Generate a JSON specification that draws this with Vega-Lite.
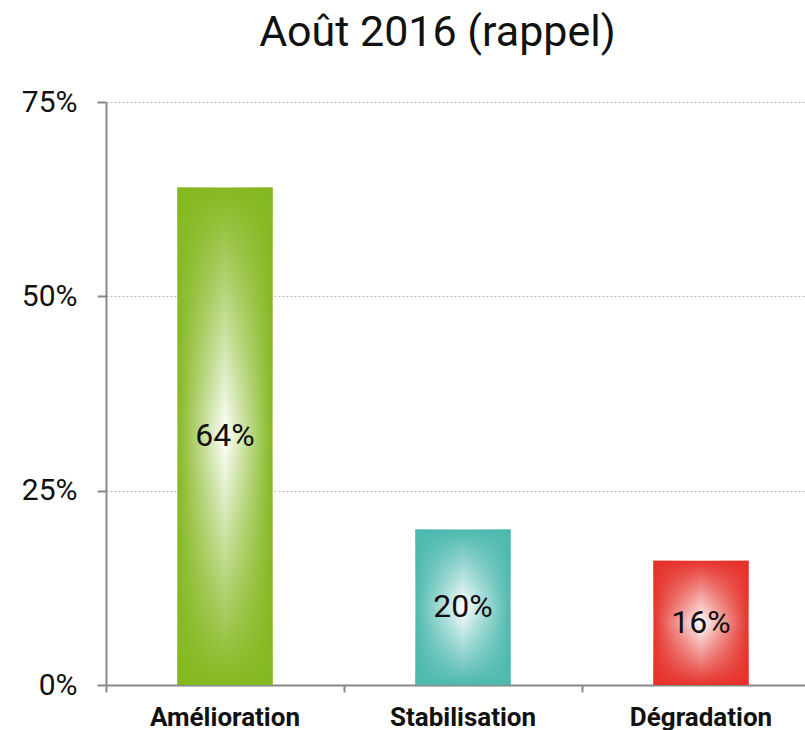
{
  "$schema": "https://vega.github.io/schema/vega-lite/v6.json",
  "width": 699,
  "height": 583,
  "autosize": "none",
  "padding": {"left": 106, "top": 102, "right": 0, "bottom": 45},
  "background": "white",
  "title": {"text": "Août 2016 (rappel)", "fontSize": 43, "font": "Roboto", "fontWeight": "normal", "color": "#111111", "anchor": "middle", "dx": -18, "offset": 32},
  "config": {"view": {"stroke": null}},
  "data": {"values": [
    {"cat": "Amélioration", "value": 0.64},
    {"cat": "Stabilisation", "value": 0.20},
    {"cat": "Dégradation", "value": 0.16}
  ]},
  "encoding": {
    "x": {"field": "cat", "type": "nominal", "sort": null,
      "scale": {"paddingInner": 0, "paddingOuter": 0, "range": [0, 714]},
      "axis": {"title": null, "labelAngle": 0, "bandPosition": 0, "domainColor": "#888888", "domainWidth": 2, "tickColor": "#888888", "tickWidth": 2, "tickSize": 7, "labelFont": "Roboto", "labelFontSize": 26, "labelFontWeight": "bold", "labelColor": "#111111", "labelPadding": 12, "grid": false}},
    "y": {"field": "value", "type": "quantitative", "scale": {"domain": [0, 0.75]},
      "axis": {"title": null, "values": [0, 0.25, 0.5, 0.75], "format": ".0%", "grid": true, "gridDash": [2, 2], "gridColor": "#bbbbbb", "domainColor": "#888888", "domainWidth": 2, "tickColor": "#888888", "tickWidth": 2, "tickSize": 9, "labelFont": "Roboto", "labelFontSize": 30, "labelColor": "#111111", "labelPadding": 20}}
  },
  "layer": [
    {
      "mark": {"type": "bar", "width": {"band": 0.4}},
      "encoding": {
        "fill": {
          "condition": [
            {"test": "datum.cat === 'Amélioration'", "value": {"gradient": "linear", "x1": 0, "y1": 0, "x2": 1, "y2": 0, "stops": [{"offset": 0, "color": "#84b820"}, {"offset": 0.5, "color": "#ffffff"}, {"offset": 1, "color": "#84b820"}]}},
            {"test": "datum.cat === 'Stabilisation'", "value": {"gradient": "linear", "x1": 0, "y1": 0, "x2": 1, "y2": 0, "stops": [{"offset": 0, "color": "#4db9ae"}, {"offset": 0.5, "color": "#ffffff"}, {"offset": 1, "color": "#4db9ae"}]}}
          ],
          "value": {"gradient": "linear", "x1": 0, "y1": 0, "x2": 1, "y2": 0, "stops": [{"offset": 0, "color": "#e5322b"}, {"offset": 0.5, "color": "#ffffff"}, {"offset": 1, "color": "#e5322b"}]}
        }
      }
    },
    {
      "mark": {"type": "bar", "width": {"band": 0.4}},
      "encoding": {
        "fill": {
          "condition": [
            {"test": "datum.cat === 'Amélioration'", "value": {"gradient": "linear", "x1": 0, "y1": 0, "x2": 0, "y2": 1, "stops": [{"offset": 0, "color": "rgba(132,184,32,1)"}, {"offset": 0.5, "color": "rgba(132,184,32,0)"}, {"offset": 1, "color": "rgba(132,184,32,1)"}]}},
            {"test": "datum.cat === 'Stabilisation'", "value": {"gradient": "linear", "x1": 0, "y1": 0, "x2": 0, "y2": 1, "stops": [{"offset": 0, "color": "rgba(77,185,174,1)"}, {"offset": 0.5, "color": "rgba(77,185,174,0)"}, {"offset": 1, "color": "rgba(77,185,174,1)"}]}}
          ],
          "value": {"gradient": "linear", "x1": 0, "y1": 0, "x2": 0, "y2": 1, "stops": [{"offset": 0, "color": "rgba(229,50,43,1)"}, {"offset": 0.5, "color": "rgba(229,50,43,0)"}, {"offset": 1, "color": "rgba(229,50,43,1)"}]}
        }
      }
    },
    {
      "mark": {"type": "text", "font": "Roboto", "fontSize": 32, "color": "#111111", "baseline": "middle", "align": "center"},
      "encoding": {
        "y": {"field": "value", "type": "quantitative", "stack": "zero", "bandPosition": 0.5},
        "x": {"field": "cat", "type": "nominal", "sort": null, "bandPosition": 0.5},
        "text": {"field": "value", "type": "quantitative", "format": ".0%"}
      }
    }
  ]
}
